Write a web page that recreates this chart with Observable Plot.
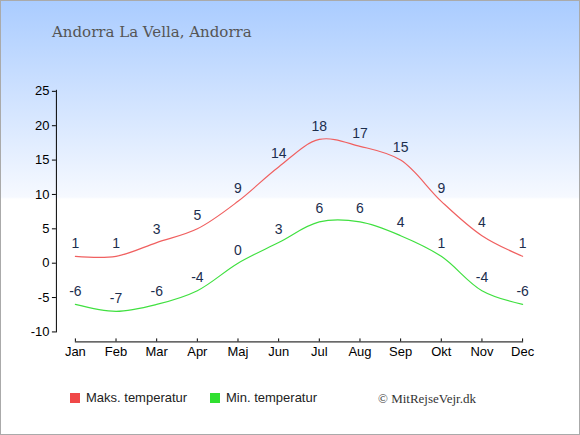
<!DOCTYPE html>
<html>
<head>
<meta charset="utf-8">
<script src="https://cdn.jsdelivr.net/npm/d3@7"></script>
<script src="https://cdn.jsdelivr.net/npm/@observablehq/plot@0.6"></script>
<style>
  html, body { margin: 0; padding: 0; }
  #chart {
    position: relative; width: 580px; height: 435px; box-sizing: border-box;
    border: 1px solid #aaaaaa;
    background: linear-gradient(to bottom, #aaccff 0px, #f6f9ff 196px, #ffffff 198px, #ffffff 100%);
    overflow: hidden;
  }
  #title {
    position: absolute; left: 51px; top: 22px;
    font-family: "DejaVu Serif", "Liberation Serif", serif; font-size: 15px; color: #555555;
  }
  #plot { position: absolute; left: -1px; top: -1px; }
  .legend {
    position: absolute; top: 389px; font-family: "Liberation Sans", Arial, sans-serif;
    font-size: 13px; color: #222222; white-space: nowrap;
  }
  .legend .sw { display: inline-block; width: 10px; height: 10px; margin-right: 6px; vertical-align: -1px; }
  #credit {
    position: absolute; left: 377px; top: 390px;
    font-family: "Liberation Serif", "DejaVu Serif", serif; font-size: 13px; color: #333333;
  }
</style>
</head>
<body>
<div id="chart">
  <div id="title">Andorra La Vella, Andorra</div>
  <div id="plot"></div>
  <div class="legend" style="left:69px"><span class="sw" style="background:#f04848"></span>Maks. temperatur</div>
  <div class="legend" style="left:209px"><span class="sw" style="background:#30e030"></span>Min. temperatur</div>
  <div id="credit">© MitRejseVejr.dk</div>
</div>
<script>
const months = ["Jan","Feb","Mar","Apr","Maj","Jun","Jul","Aug","Sep","Okt","Nov","Dec"];
const maxTemp = [1, 1, 3, 5, 9, 14, 18, 17, 15, 9, 4, 1];
const minTemp = [-6, -7, -6, -4, 0, 3, 6, 6, 4, 1, -4, -6];
const yTicks = [-10, -5, 0, 5, 10, 15, 20, 25];

const maxData = months.map((m, i) => ({month: m, value: maxTemp[i]}));
const minData = months.map((m, i) => ({month: m, value: minTemp[i]}));

const labelColor = "#1c2e4e";
const plot = Plot.plot({
  width: 580,
  height: 380,
  marginLeft: 56,
  marginRight: 57,
  marginTop: 90,
  marginBottom: 38,
  style: {background: "transparent", fontFamily: "Liberation Sans, Arial, sans-serif", fontSize: "13px", color: "#000"},
  x: {type: "point", domain: months, range: [75, 523], padding: 0, round: false, label: null},
  y: {domain: [-10, 25], range: [332, 91], label: null},
  marks: [
    Plot.frame({anchor: "left", insetBottom: 10, stroke: "#000"}),
    Plot.frame({anchor: "bottom", insetLeft: 19, stroke: "#000"}),
    Plot.axisY({ticks: yTicks, tickSize: 4, tickPadding: 3, fontSize: 13, tickFormat: d => String(d), color: "#000", label: null}),
    Plot.axisX({tickSize: -3, tickPadding: 8, fontSize: 13, color: "#000", label: null}),
    Plot.line(maxData, {x: "month", y: "value", stroke: "#f06060", strokeWidth: 1.2, curve: "catmull-rom"}),
    Plot.line(minData, {x: "month", y: "value", stroke: "#40e040", strokeWidth: 1.2, curve: "catmull-rom"}),
    Plot.text(maxData, {x: "month", y: "value", text: d => String(d.value), dy: -13, fill: labelColor, fontSize: 14}),
    Plot.text(minData, {x: "month", y: "value", text: d => String(d.value), dy: -13, fill: labelColor, fontSize: 14})
  ]
});
document.getElementById("plot").appendChild(plot);
</script>
</body>
</html>
